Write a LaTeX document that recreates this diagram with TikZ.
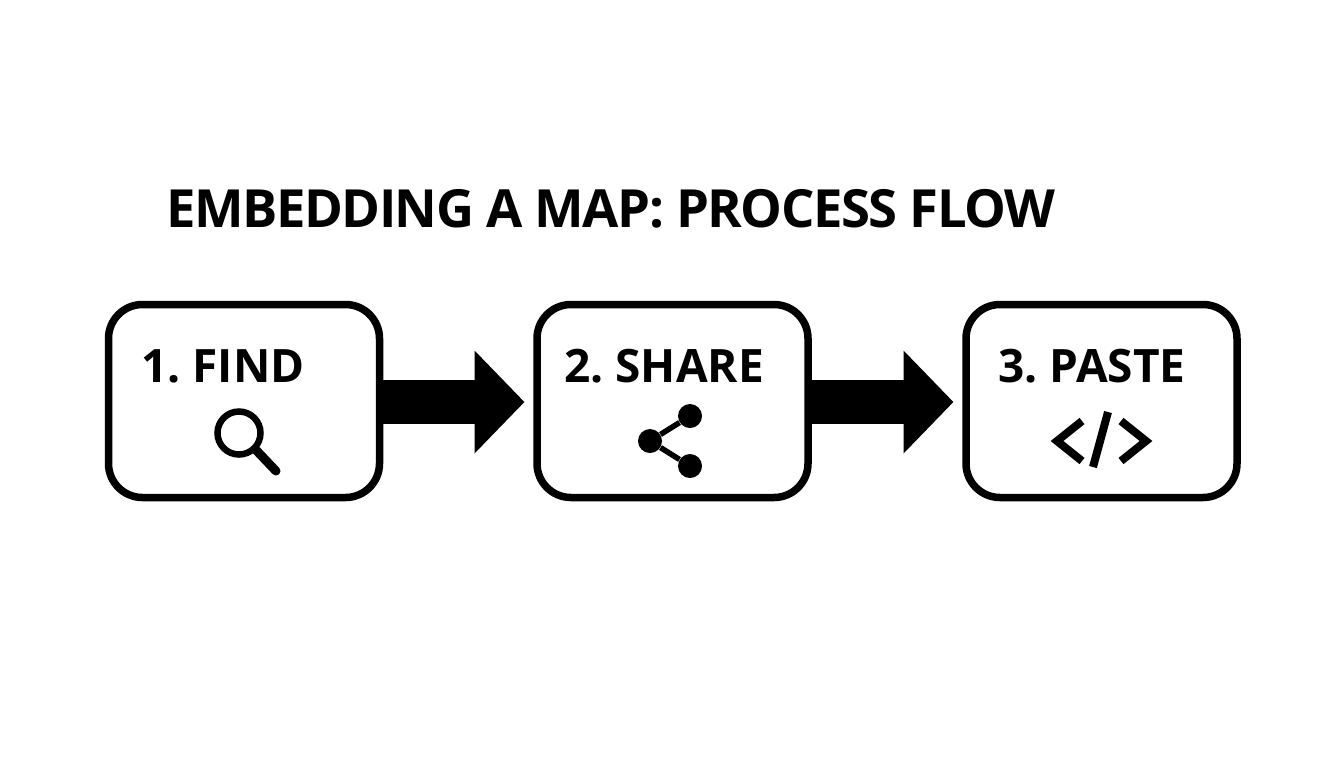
\documentclass[tikz,border=0pt]{standalone}
\usepackage{fontspec}
\setmainfont{Open Sans}
\usetikzlibrary{arrows.meta}
\begin{document}
\begin{tikzpicture}[x=0.5pt,y=-0.5pt,
	box/.style={draw,line width=3.75pt,outer sep=0pt,rounded corners=17pt,minimum width=135.5pt,minimum height=96.5pt,inner sep=0pt},
	flow/.style={line width=22pt,-{Triangle[length=25pt,width=50pt]},shorten >=6.25pt},
	label/.style={anchor=base west,inner sep=0pt,font={\bfseries\fontsize{23}{26}\selectfont\spaceskip=0.17em\relax}},
	dot/.style={circle,fill=black,inner sep=0pt,minimum width=12pt},
	icon/.style={line width=4pt}]
\useasboundingbox (0,0) rectangle (1344,768);
\node[label,font={\bfseries\fontsize{26.3}{30}\selectfont\addfontfeature{LetterSpace=-2.9}}] (title) at (166,227) {EMBEDDING A MAP: PROCESS FLOW};

\foreach \number/\x in {1/244,2/672.5,3/1101.5}
{
	\node[box] (box\number) at (\x,401) {};
}
\foreach \x/\y in {1/2,2/3}
	\draw[flow] ([yshift=-0.5pt]box\x.east) -- ([yshift=-0.5pt]box\y.west);

\node[label] (find) at (141,382) {1. FIND};
\node[label] (share) at (564,382) {2. SHARE};
\node[label] (paste) at (998,382) {3. PASTE};

% find
\node[circle,draw,line width=3.25pt,inner sep=0pt,minimum width=21.5pt] (lens) at (239,433) {};
\coordinate (grip) at (276,471);
\draw[line width=4.5pt,line cap=round] (lens.-45) -- (grip);

% share
\node[dot] (top) at (690,416) {};
\node[dot] (mid) at (650,441) {};
\node[dot] (low) at (690,466) {};
\draw[line width=2.75pt] (mid) -- (top);
\draw[line width=2.75pt] (mid) -- (low);

% paste
\draw[icon] (1082,421) -- (1057,441) -- (1082,461);
\draw[icon] (1108,412) -- (1093,467);
\draw[icon] (1121,421) -- (1146,441) -- (1121,461);
\end{tikzpicture}
\end{document}
